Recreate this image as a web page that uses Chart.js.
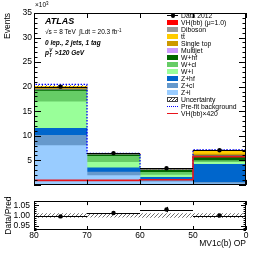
<!DOCTYPE html>
<html>
<head>
<meta charset="utf-8">
<script src="https://cdn.jsdelivr.net/npm/chart.js@4.4.1/dist/chart.umd.min.js"></script>
<style>
  html, body { margin: 0; padding: 0; background: #fff; }
  #wrap { position: relative; width: 266px; height: 255px; overflow: hidden;
          font-family: "Liberation Sans", Arial, Helvetica, sans-serif; color: #000; }
  canvas { position: absolute; left: 0; }
  #mainChart { top: 0; }
  #ratioChart { top: 192px; }
  .txt { position: absolute; white-space: nowrap; line-height: 1; }
  #legend { position: absolute; left: 167px; top: 12px; font-size: 6.8px; }
  .row { position: relative; height: 7px; width: 80px; }
  .sw { position: absolute; left: 0; top: 1px; width: 11px; height: 5px; box-sizing: border-box; }
  .lab { position: absolute; left: 14px; top: 0; line-height: 7px; white-space: nowrap; }
</style>
</head>
<body>
<div id="wrap">
  <canvas id="mainChart" width="266" height="192"></canvas>
  <canvas id="ratioChart" width="266" height="63"></canvas>

  <div class="txt" style="left:35px; top:2px; font-size:6.5px;">×10<span style="font-size:4.5px; position:relative; top:-2.5px;">3</span></div>
  <div class="txt" style="left:45px; top:17px; font-size:9px; font-weight:bold; font-style:italic;">ATLAS</div>
  <div class="txt" style="left:45px; top:29px; font-size:6.5px;">√s = 8 TeV &nbsp;∫Ldt = 20.3 fb<span style="font-size:4.5px; position:relative; top:-2.5px;">-1</span></div>
  <div class="txt" style="left:45px; top:39.5px; font-size:6.5px; font-weight:bold; font-style:italic;">0 lep., 2 jets, 1 tag</div>
  <div class="txt" style="left:45px; top:49.5px; font-size:6.5px; font-weight:bold; font-style:italic;">p<span style="font-size:4.5px; position:relative; top:2px;">T</span><span style="font-size:4.5px; position:relative; top:-3px; left:-2.5px;">V</span>&gt;120 GeV</div>

  <div id="legend"></div>
</div>

<script>
// ---- data (values in units of 10^3 events) ----
const binEdges = ["80", "70", "60", "50", "0"];
const dataValues = [20.0, 6.47, 3.38, 7.05];
const dataErrors = [0.14, 0.08, 0.06, 0.08];

const vhSignal = [0.003, 0.003, 0.004, 0.014];
const diboson = [0.10, 0.05, 0.04, 0.12];
const ttbar = [0.43, 0.15, 0.17, 0.75];
const singleTop = [0.15, 0.07, 0.07, 0.26];
const multijet = [0.05, 0.02, 0.01, 0.02];
const wHf = [0.25, 0.30, 0.45, 0.95];
const wCl = [2.2, 1.2, 0.55, 0.35];
const wL = [5.4, 1.1, 0.45, 0.40];
const zHf = [1.4, 0.9, 0.6, 3.7];
const zCl = [2.1, 0.7, 0.35, 0.30];
const zL = [8.0, 1.9, 0.6, 0.20];

const preFit = [20.45, 6.42, 3.30, 7.15];
const vhTimes420 = [0.93, 0.93, 1.05, 5.75];
const relUncertainty = [0.009, 0.008, 0.009, 0.010];

const ratioValues = [0.996, 1.012, 1.029, 1.000];
const ratioErrors = [0.004, 0.008, 0.013, 0.004];

const mainYTicks = [0, 5, 10, 15, 20, 25, 30, 35];
const ratioYTicks = [0.95, 1, 1.05];

// stack, bottom to top
const processes = [
  { label: "Z+l", values: zL, color: "#99ccff" },
  { label: "Z+cl", values: zCl, color: "#6699cc" },
  { label: "Z+hf", values: zHf, color: "#0066cc" },
  { label: "W+l", values: wL, color: "#99ff99" },
  { label: "W+cl", values: wCl, color: "#66cc66" },
  { label: "W+hf", values: wHf, color: "#006600" },
  { label: "Multijet", values: multijet, color: "#cc99ff" },
  { label: "Diboson", values: diboson, color: "#999999" },
  { label: "Single top", values: singleTop, color: "#cc9900" },
  { label: "tt\u0304", values: ttbar, color: "#ffcc00" },
  { label: "VH(bb) (\u03bc=1.0)", values: vhSignal, color: "#ff0000" },
];

const binIdx = dataValues.map((v, i) => i);
const totals = binIdx.map((i) => processes.reduce((s, p) => s + p.values[i], 0));

Chart.defaults.font.family = "'Liberation Sans', Arial, Helvetica, sans-serif";
Chart.defaults.color = "#000";

function makeHatch(color) {
    const c = document.createElement("canvas");
    c.width = 4;
    c.height = 4;
    const g = c.getContext("2d");
    g.strokeStyle = color;
    g.lineWidth = 0.8;
    g.beginPath();
    g.moveTo(0, 4); g.lineTo(4, 0);
    g.moveTo(-1, 1); g.lineTo(1, -1);
    g.moveTo(3, 5); g.lineTo(5, 3);
    g.stroke();
    return g.createPattern(c, "repeat");
}
const hatch = makeHatch("#444");

// histogram outline points from bin values
function stepPoints(vals) {
    const pts = [{ x: 0, y: 0 }];
    vals.forEach((v, i) => pts.push({ x: i, y: v }));
    pts.push({ x: vals.length, y: vals[vals.length - 1] });
    pts.push({ x: vals.length, y: 0 });
    return pts;
}

// inside ticks + frame, ATLAS style
const atlasFrame = {
    id: "atlasFrame",
    afterDraw(chart, args, o) {
        const { ctx, chartArea: a, scales } = chart;
        const x = scales.x, y = scales.y;
        ctx.save();
        ctx.strokeStyle = "#000";
        ctx.lineWidth = 1;
        ctx.beginPath();
        const n = Math.round((o.yMax - o.yMin) / o.yMinor);
        for (let k = 0; k <= n; k++) {
            const v = o.yMin + k * o.yMinor;
            const major = o.yMajor.some((m) => Math.abs(m - v) < 1e-6);
            const len = major ? o.yMajorLen : o.yMinorLen;
            const py = Math.round(y.getPixelForValue(v)) + 0.5;
            ctx.moveTo(a.left, py); ctx.lineTo(a.left + len, py);
            ctx.moveTo(a.right, py); ctx.lineTo(a.right - len, py);
        }
        binEdges.forEach((e, i) => {
            const px = Math.round(x.getPixelForValue(i)) + 0.5;
            ctx.moveTo(px, a.bottom); ctx.lineTo(px, a.bottom - o.xLen);
            ctx.moveTo(px, a.top); ctx.lineTo(px, a.top + o.xLen);
        });
        ctx.stroke();
        ctx.strokeRect(Math.round(a.left) + 0.5, Math.round(a.top) + 0.5,
            Math.round(a.right - a.left) - 1, Math.round(a.bottom - a.top) - 1);
        ctx.restore();
    },
};

// data error bars (bin width horizontally, stat error vertically)
const errorBars = {
    id: "errorBars",
    afterDatasetsDraw(chart) {
        const { ctx, scales: { x, y } } = chart;
        chart.data.datasets.forEach((ds) => {
            if (!ds.yErr) return;
            ctx.save();
            ctx.strokeStyle = "#000";
            ctx.lineWidth = 1;
            ctx.beginPath();
            ds.data.forEach((p, i) => {
                const py = Math.round(y.getPixelForValue(p.y)) + 0.5;
                const px = Math.round(x.getPixelForValue(p.x)) + 0.5;
                ctx.moveTo(x.getPixelForValue(p.x - 0.5), py);
                ctx.lineTo(x.getPixelForValue(p.x + 0.5), py);
                ctx.moveTo(px, y.getPixelForValue(p.y - ds.yErr[i]));
                ctx.lineTo(px, y.getPixelForValue(p.y + ds.yErr[i]));
            });
            ctx.stroke();
            ctx.restore();
        });
    },
};

const xScale = (showLabels) => ({
    type: "linear",
    min: 0,
    max: binEdges.length - 1,
    offset: false,
    display: showLabels,
    grid: { display: false, drawTicks: false },
    border: { display: false },
    afterBuildTicks: (s) => { s.ticks = binEdges.map((e, i) => ({ value: i })); },
    ticks: {
        stepSize: 1,
        padding: 1,
        maxRotation: 0,
        autoSkip: false,
        font: { size: 8.5 },
        callback: (v, i) => binEdges[i],
    },
    afterFit: (s) => { if (showLabels) s.height = 25; },
    title: {
        display: showLabels,
        text: "MV1c(b) OP",
        align: "end",
        font: { size: 8.5 },
        padding: { top: 0, bottom: 6 },
    },
});

// ---- main panel ----
const mainDatasets = [
    {
        type: "line",
        label: "Data 2012",
        data: binIdx.map((i) => ({ x: i + 0.5, y: dataValues[i] })),
        yErr: dataErrors,
        showLine: false,
        pointRadius: 2.2,
        pointBackgroundColor: "#000",
        pointBorderWidth: 0,
        stack: "data",
        order: 0,
    },
    {
        type: "line",
        label: "VH(bb)\u00d7420",
        data: stepPoints(vhTimes420),
        stepped: "before",
        borderColor: "#e8141c",
        borderWidth: 1.6,
        pointRadius: 0,
        fill: false,
        stack: "vh420",
        order: 1,
    },
    {
        type: "line",
        label: "Pre-fit background",
        data: stepPoints(preFit),
        stepped: "before",
        borderColor: "#0000ff",
        borderWidth: 1.3,
        borderDash: [1.5, 1.5],
        pointRadius: 0,
        fill: false,
        stack: "prefit",
        order: 1,
    },
    {
        type: "bar",
        label: "Uncertainty",
        data: binIdx.map((i) => ({
            x: i + 0.5,
            y: [totals[i] * (1 - relUncertainty[i]), totals[i] * (1 + relUncertainty[i])],
        })),
        backgroundColor: hatch,
        borderWidth: 0,
        stack: "unc",
        order: 2,
    },
];
processes.forEach((p) => {
    mainDatasets.push({
        type: "bar",
        label: p.label,
        data: binIdx.map((i) => ({ x: i + 0.5, y: p.values[i] })),
        backgroundColor: p.color,
        borderWidth: 0,
        stack: "bkg",
        order: 3,
    });
});

new Chart(document.getElementById("mainChart"), {
    type: "bar",
    data: { datasets: mainDatasets },
    options: {
        responsive: false,
        animation: false,
        devicePixelRatio: 1,
        layout: { padding: { top: 13, right: 20, bottom: 4, left: 0 } },
        datasets: { bar: { barPercentage: 1, categoryPercentage: 1, grouped: false } },
        scales: {
            x: xScale(false),
            y: {
                stacked: true,
                min: 0,
                max: 35,
                grid: { display: false, drawTicks: false },
                border: { display: false },
                afterBuildTicks: (s) => { s.ticks = mainYTicks.map((v) => ({ value: v })); },
                afterFit: (s) => { s.width = 34; },
                ticks: {
                    padding: 2,
                    font: { size: 8.5 },
                    callback: (v) => (v === 0 ? "" : v),
                },
                title: {
                    display: true,
                    text: "Events",
                    align: "end",
                    font: { size: 8.5 },
                    padding: { top: 3, bottom: 0 },
                },
            },
        },
        plugins: {
            legend: { display: false },
            tooltip: { enabled: false },
            atlasFrame: {
                yMin: 0, yMax: 35, yMinor: 1, yMajor: mainYTicks,
                yMajorLen: 7, yMinorLen: 3.5, xLen: 5,
            },
        },
    },
    plugins: [errorBars, atlasFrame],
});

// ---- ratio panel ----
new Chart(document.getElementById("ratioChart"), {
    type: "bar",
    data: {
        datasets: [
            {
                type: "line",
                label: "Data/Pred",
                data: binIdx.map((i) => ({ x: i + 0.5, y: ratioValues[i] })),
                yErr: ratioErrors,
                showLine: false,
                pointRadius: 2.2,
                pointBackgroundColor: "#000",
                pointBorderWidth: 0,
                order: 0,
            },
            {
                type: "bar",
                label: "Uncertainty",
                data: binIdx.map((i) => ({
                    x: i + 0.5,
                    y: [1 - relUncertainty[i], 1 + relUncertainty[i]],
                })),
                backgroundColor: hatch,
                borderWidth: 0,
                order: 1,
            },
        ],
    },
    options: {
        responsive: false,
        animation: false,
        devicePixelRatio: 1,
        layout: { padding: { top: 3, right: 20, bottom: 0, left: 0 } },
        datasets: { bar: { barPercentage: 1, categoryPercentage: 1, grouped: false } },
        scales: {
            x: xScale(true),
            y: {
                min: 0.93,
                max: 1.07,
                grid: { display: false, drawTicks: false },
                border: { display: false },
                afterBuildTicks: (s) => { s.ticks = ratioYTicks.map((v) => ({ value: v })); },
                afterFit: (s) => { s.width = 34; },
                ticks: { padding: 4, font: { size: 8.5 } },
                title: {
                    display: true,
                    text: "Data/Pred",
                    font: { size: 8.5 },
                    padding: { top: 4, bottom: 0 },
                },
            },
        },
        plugins: {
            legend: { display: false },
            tooltip: { enabled: false },
            atlasFrame: {
                yMin: 0.93, yMax: 1.07, yMinor: 0.01, yMajor: ratioYTicks,
                yMajorLen: 5, yMinorLen: 2.5, xLen: 4,
            },
        },
    },
    plugins: [errorBars, atlasFrame],
});

// ---- legend (same order as the reference) ----
const legendRows = [
    { text: "Data 2012", kind: "data" },
    { text: "VH(bb) (\u03bc=1.0)", kind: "fill" },
    { text: "Diboson", kind: "fill" },
    { text: "tt\u0304", kind: "fill" },
    { text: "Single top", kind: "fill" },
    { text: "Multijet", kind: "fill" },
    { text: "W+hf", kind: "fill" },
    { text: "W+cl", kind: "fill" },
    { text: "W+l", kind: "fill" },
    { text: "Z+hf", kind: "fill" },
    { text: "Z+cl", kind: "fill" },
    { text: "Z+l", kind: "fill" },
    { text: "Uncertainty", kind: "hatch" },
    { text: "Pre-fit background", kind: "dotted" },
    { text: "VH(bb)\u00d7420", kind: "line" },
];
const legendEl = document.getElementById("legend");
legendRows.forEach((r) => {
    const row = document.createElement("div");
    row.className = "row";
    const sw = document.createElement("div");
    sw.className = "sw";
    if (r.kind === "fill") {
        const p = processes.find((q) => q.label === r.text);
        sw.style.background = p.color;
    } else if (r.kind === "hatch") {
        sw.style.border = "0.8px solid #444";
        sw.style.background = "repeating-linear-gradient(135deg, #444 0 0.7px, #fff 0.7px 2.2px)";
    } else if (r.kind === "dotted") {
        sw.style.height = "0";
        sw.style.top = "3px";
        sw.style.borderTop = "1.3px dotted #0000ff";
    } else if (r.kind === "line") {
        sw.style.height = "0";
        sw.style.top = "3px";
        sw.style.borderTop = "1.5px solid #e8141c";
    } else if (r.kind === "data") {
        sw.style.height = "0";
        sw.style.top = "3px";
        sw.style.borderTop = "1px solid #000";
        const dot = document.createElement("div");
        dot.style.cssText = "position:absolute; left:3.5px; top:-2.7px; width:4.4px; height:4.4px; border-radius:50%; background:#000;";
        sw.appendChild(dot);
    }
    const lab = document.createElement("div");
    lab.className = "lab";
    lab.textContent = r.text;
    row.appendChild(sw);
    row.appendChild(lab);
    legendEl.appendChild(row);
});
</script>
</body>
</html>
